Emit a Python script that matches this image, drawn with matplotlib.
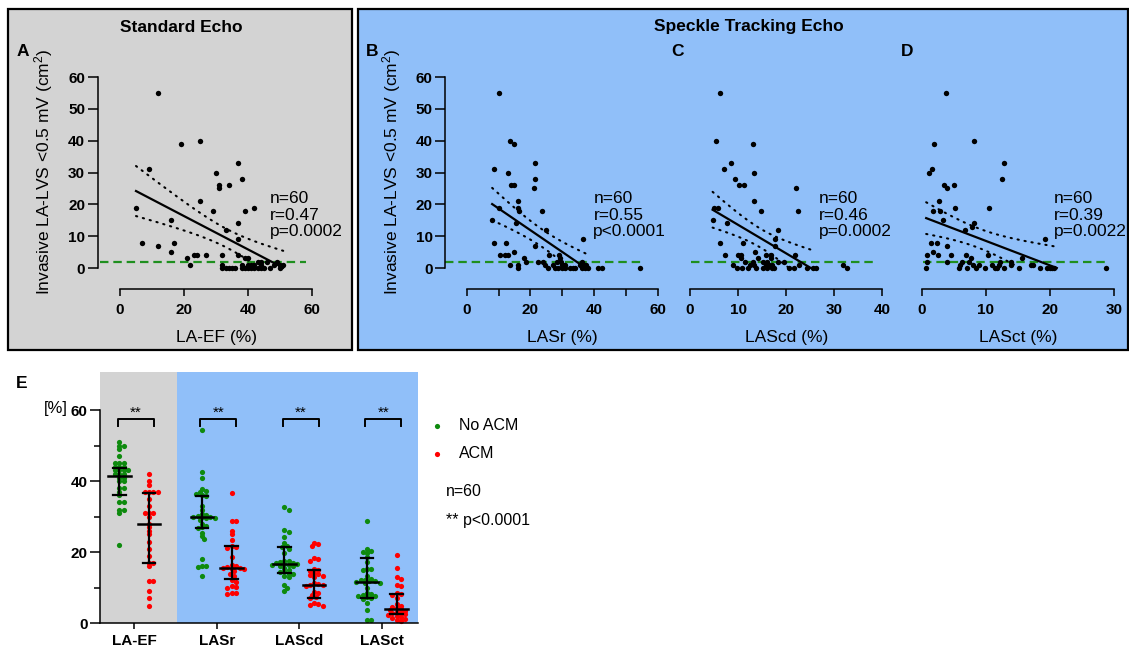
import numpy as np
import matplotlib.pyplot as plt
from matplotlib.patches import Rectangle

plt.rcParams['font.family'] = ['Liberation Sans', 'DejaVu Sans']
plt.rcParams['mathtext.default'] = 'regular'

W, H = 1129, 650
GRAY = '#d3d3d3'
BLUE = '#90bff9'
GREEN = '#0e8a0e'
RED = '#ff0000'
DGREEN = '#1f8f1f'

# ---- scatter panels A-D: x = echo parameter (%), y = LA-LVS (cm2) ----
laef_x = [12, 19, 25, 9, 37, 30, 38, 31, 31, 34, 5, 25, 29, 39, 42, 37, 16, 33, 37, 7,
          12, 17, 16, 23, 24, 27, 32, 37, 21, 22, 39, 40, 43, 44, 49, 50, 51, 42, 40, 32,
          34, 36, 38, 39, 40, 41, 42, 43, 44, 45, 32, 46, 50, 41, 48, 35, 33, 38, 44, 47]
laef_y = [55, 39, 40, 31, 33, 30, 28, 26, 25, 26, 19, 21, 18, 18, 19, 14, 15, 12, 9, 8,
          7, 8, 5, 4, 4, 4, 4, 4, 3, 1, 3, 3, 2, 2, 2, 1, 1, 1, 1, 0,
          0, 0, 0, 0, 0, 0, 0, 0, 0, 0, 1, 2, 0, 1, 1, 0, 0, 1, 1, 0]

lasr_x = [10, 13.5, 15, 8.5, 21.5, 13, 21.5, 14, 15, 21, 16, 16, 16.3, 10, 23.5, 8, 15.5, 8.5, 12.5, 25,
          21.5, 36.6, 10.5, 12, 13, 15, 13.5, 16, 16, 18, 24, 26, 24.5, 25.6, 27.7, 28.8, 29.8, 30.9, 32.5, 33.5,
          36.1, 37.2, 38, 41.2, 42.4, 54.4, 29, 29.3, 29.6, 30, 18.5, 22.5, 27, 28.5, 31, 35.5, 36.8, 36.3, 37.5, 34]
lasr_y = [55, 40, 39, 31, 33, 30, 28, 26, 26, 25, 21, 19, 18, 19, 18, 15, 14, 8, 8, 12,
          7, 9, 4, 4, 4, 5, 1, 0, 1, 3, 2, 4, 1, 0, 0, 0, 0, 0, 0, 0,
          0, 0, 0, 0, 0, 0, 4, 3, 2, 1, 2, 2, 1, 2, 1, 1, 1, 2, 1, 0]

lascd_x = [6.2, 5.5, 13, 8.6, 7, 13.4, 9.3, 10.2, 11.2, 22, 13.3, 22.5, 14.8, 5, 5.8, 4.7, 7.6, 18.3, 17.7, 6.2,
           11.1, 17.6, 7.3, 10, 10.5, 13.5, 15.8, 21.8, 10.5, 13.1, 15.2, 16.1, 18.3, 9, 22.6, 31.9, 9.8, 10.9, 13.7, 15.2,
           16.1, 17.1, 17.5, 21.6, 24.3, 25.6, 26.1, 32.6, 12.4, 13.4, 15.8, 16.5, 11.5, 14.2, 16.8, 12, 17, 19.5, 20.5, 16.9]
lascd_y = [55, 40, 39, 33, 31, 30, 28, 26, 26, 25, 21, 18, 18, 19, 19, 15, 14, 12, 9, 8,
           8, 7, 4, 4, 4, 5, 4, 4, 3, 2, 2, 2, 2, 1, 1, 1, 0, 0, 0, 0,
           0, 0, 0, 0, 0, 0, 0, 0, 1, 1, 1, 1, 2, 3, 3, 0, 1, 2, 0, 4]

lasct_x = [3.75, 1.9, 8.1, 12.9, 12.5, 1.6, 1.1, 3.5, 4, 5, 2.7, 5.25, 10.5, 1.8, 2.85, 3.3, 8.2, 7.9, 6.8, 19.2,
           1.5, 2.4, 3.9, 0.8, 1.8, 2.5, 4.5, 6.9, 7.7, 10.3, 15.6, 0.8, 3.9, 6.3, 7.4, 12.3, 13.9, 17.4, 15.2, 0.7,
           5.9, 7, 8.5, 9.9, 11.5, 11.8, 12.9, 18.5, 19.5, 20, 20.6, 28.75, 6, 8, 9, 11, 12, 14, 17, 20.3]
lasct_y = [55, 39, 40, 33, 28, 31, 30, 26, 25, 26, 21, 19, 19, 18, 18, 15, 14, 13, 12, 9,
           8, 8, 7, 4, 5, 4, 4, 4, 3, 4, 3, 2, 2, 2, 2, 2, 2, 1, 0, 0,
           0, 0, 0, 0, 0, 0, 0, 0, 0, 0, 0, 0, 1, 1, 1, 1, 1, 1, 1, 0]

scatter_stats = [['n=60', 'r=0.47', 'p=0.0002'], ['n=60', 'r=0.55', 'p<0.0001'],
                 ['n=60', 'r=0.46', 'p=0.0002'], ['n=60', 'r=0.39', 'p=0.0022']]
scatter_xlabels = ['LA-EF (%)', 'LASr (%)', 'LAScd (%)', 'LASct (%)']
threshold = 2  # green dashed reference line (cm2)

# ---- panel E: distributions by group ----
categories = ['LA-EF', 'LASr', 'LAScd', 'LASct']
no_acm = [
    [51, 50, 50, 49, 47, 45, 45, 45, 44, 44, 44, 43, 43, 43, 43, 42, 42, 42, 41, 41, 40, 40, 38, 38, 37, 36, 34, 34, 32, 32, 31, 22],
    [54.5, 42.6, 41, 37.8, 37.2, 37, 36.5, 36, 35.8, 33, 32, 30.8, 30.5, 30.2, 30, 30, 29.8, 29.5, 29.5, 29, 28, 27.5, 27, 26.8, 25.5, 24.5, 23.6, 18, 16.2, 16, 15.8, 13.3],
    [32.6, 31.9, 26.2, 25.8, 24.2, 22.7, 21.8, 21.4, 21, 19.9, 17.6, 17.4, 17.2, 17, 16.9, 16.8, 16.6, 16.5, 16.4, 16.2, 16, 15.6, 15, 14.6, 14.3, 14, 13.8, 13.4, 13, 10.8, 10, 9.2],
    [28.7, 20.8, 20.4, 20.1, 19.8, 18.7, 17.3, 15.4, 15.2, 15, 13.2, 12.6, 12.3, 12.1, 12, 11.8, 11.6, 11.4, 11.2, 9.8, 8.4, 8.2, 8, 7.8, 7.6, 7.3, 7, 6.8, 5.6, 3.7, 1, 0.8],
]
acm = [
    [42, 40, 39, 37, 37, 37, 37, 35, 33, 31, 31, 31, 30, 28, 27, 26, 25, 23, 21, 19, 17, 17, 16, 12, 12, 9, 7, 5],
    [36.7, 28.8, 28.8, 26, 25, 23.4, 21.7, 21.5, 21.2, 18.7, 16.4, 16, 15.8, 15.6, 15.5, 15.4, 15.2, 14.6, 14, 13.4, 12.2, 11.6, 10.4, 10.2, 10, 8.6, 8.5, 8.2],
    [22.6, 22.2, 21.8, 18.3, 18, 17.6, 15.4, 15, 14.8, 14.2, 13.8, 13.6, 13.3, 13, 11.2, 11, 10.9, 10.8, 10.6, 8.9, 8.4, 8, 7.5, 7.2, 5.8, 5.5, 5.2, 4.9],
    [19.2, 15.7, 12.9, 12.5, 10.7, 10.5, 8.5, 8.3, 8.1, 7, 5.3, 5, 4.6, 4.3, 4, 3.8, 3.6, 3.2, 3, 2.8, 2.6, 2.3, 2, 1.8, 1.5, 1.2, 1, 0.6],
]
med_no = [41.4, 29.8, 16.7, 11.5]
q1_no = [36.1, 26.7, 14.2, 7.0]
q3_no = [43.8, 35.9, 21.4, 18.5]
med_acm = [27.9, 15.5, 10.8, 3.9]
q1_acm = [16.9, 12.4, 7.0, 2.6]
q3_acm = [36.7, 21.7, 15.0, 8.2]

fig = plt.figure(figsize=(W / 100, H / 100), dpi=100)

# background layer in pixel coordinates
bg = fig.add_axes([0, 0, 1, 1], zorder=-1)
bg.set_xlim(0, W)
bg.set_ylim(H, 0)
bg.axis('off')
bg.add_patch(Rectangle((8, 9), 344, 341, facecolor=GRAY, edgecolor='black', lw=1.6))
bg.add_patch(Rectangle((358, 9), 770, 341, facecolor=BLUE, edgecolor='black', lw=1.6))
bg.text(181, 27, 'Standard Echo', ha='center', va='center', fontsize=12.5, fontweight='bold')
bg.text(749, 27, 'Speckle Tracking Echo', ha='center', va='center', fontsize=12.5, fontweight='bold')
for lab, px in zip('ABCD', [23, 372, 677, 907]):
    bg.text(px, 52, lab, ha='center', va='center', fontsize=12.5, fontweight='bold')


def px_axes(left, top, right, bottom):
    return fig.add_axes([left / W, 1 - bottom / H, (right - left) / W, (bottom - top) / H])


def fit_curves(x, y):
    x = np.asarray(x, float)
    y = np.asarray(y, float)
    n = len(x)
    b, a = np.polyfit(x, y, 1)
    s = np.sqrt(np.sum((y - (a + b * x)) ** 2) / (n - 2))
    sxx = np.sum((x - x.mean()) ** 2)
    x_end = min(x.max(), -a / b) if b < 0 else x.max()
    xs = np.linspace(x.min(), x_end, 300)
    yh = a + b * xs
    half = 2.0 * s * np.sqrt(1 / n + (xs - x.mean()) ** 2 / sxx)
    lo = yh - half
    lo[lo < 0] = np.nan
    return xs, yh, lo, yh + half


Y0, YS = 268, 3.183
ylo, yhi = -6.7, 62
panels = [
    # x data, y data, px of x=0, px per unit, xlim, x max tick, tick step, y axis, ref line span, text x, label px
    (laef_x, laef_y, 120, 3.2, (-7, 61), 60, 20, True, (-6.3, 58), 46.9, 216),
    (lasr_x, lasr_y, 466.7, 3.183, (-6.8, 61), 60, 20, True, (-6.8, 56), 39.8, 562),
    (lascd_x, lascd_y, 690, 4.81, (-1, 41), 40, 10, False, (0.3, 38.8), 26.7, 787),
    (lasct_x, lasct_y, 921.7, 6.4, (-1, 31), 30, 10, False, (0.15, 29), 20.6, 1018),
]
for i, (xd, yd, x0, xs_, xl, xmax, step, yax, ref, tx, lpx) in enumerate(panels):
    left = x0 + xs_ * xl[0]
    right = x0 + xs_ * xl[1]
    top = Y0 - YS * yhi
    bottom = Y0 - YS * ylo
    ax = px_axes(left, top, right, bottom)
    ax.set_facecolor('none')
    ax.set_xlim(*xl)
    ax.set_ylim(ylo, yhi)
    for sp in ['top', 'right']:
        ax.spines[sp].set_visible(False)
    ax.spines['bottom'].set_bounds(0, xmax)
    ax.spines['bottom'].set_linewidth(1.1)
    ax.set_xticks(np.arange(0, xmax + 1, step))
    if i == 1:
        ax.set_xticks(np.arange(10, xmax, 20), minor=True)
        ax.tick_params(axis='x', which='minor', length=5, width=1.1)
    ax.tick_params(axis='x', length=5, width=1.1, pad=5, labelsize=11)
    if yax:
        ax.spines['left'].set_bounds(0, 60)
        ax.spines['left'].set_linewidth(1.1)
        ax.set_yticks(np.arange(0, 61, 10))
        ax.tick_params(axis='y', length=7, width=1.1, pad=2, labelsize=11)
        ax.set_ylabel('Invasive LA-LVS <0.5 mV (cm$^2$)', fontsize=12.5)
        ax.yaxis.set_label_coords(((55 if i == 0 else 403) - left) / (right - left), (bottom - 172) / (bottom - top))
    else:
        ax.spines['left'].set_visible(False)
        ax.set_yticks([])
    for lbl in ax.get_xticklabels() + ax.get_yticklabels():
        lbl.set_fontweight('bold')
    ax.set_xlabel(scatter_xlabels[i], fontsize=12.5)
    ax.xaxis.set_label_coords((lpx - left) / (right - left), (bottom - 330) / (bottom - top))

    ax.plot(ref, [threshold, threshold], color=DGREEN, lw=1.6, dashes=(3.8, 2.2), zorder=2)
    fx, fy, flo, fhi = fit_curves(xd, yd)
    ax.plot(fx, fy, color='black', lw=1.6, zorder=3)
    for c in (flo, fhi):
        ax.plot(fx, c, color='black', lw=1.5, linestyle=(0, (0.6, 2.8)), dash_capstyle='round', zorder=3)
    ax.scatter(xd, yd, s=15, color='black', zorder=4, clip_on=False, linewidths=0)
    ax.text(tx, 16.6, '\n'.join(scatter_stats[i]), ha='left', va='center', fontsize=12.5, linespacing=1.1)

# ---- panel E ----
axE = px_axes(100, 371.7, 418, 623.3)
axE.set_xlim(-0.416, 3.44)
axE.set_ylim(0, 70.8)
axE.set_facecolor('none')
axE.axvspan(-0.416, 0.52, color=GRAY, lw=0, zorder=0)
axE.axvspan(0.52, 3.44, color=BLUE, lw=0, zorder=0)
for sp in ['top', 'right']:
    axE.spines[sp].set_visible(False)
axE.spines['left'].set_bounds(0, 60)
axE.spines['left'].set_linewidth(1.1)
axE.spines['bottom'].set_linewidth(1.1)
axE.set_yticks([0, 20, 40, 60])
axE.set_yticks([10, 30, 50], minor=True)
axE.tick_params(axis='y', which='major', length=7, width=1.1, pad=2, labelsize=11)
axE.tick_params(axis='y', which='minor', length=4, width=1.1)
axE.set_xticks(range(4))
axE.set_xticklabels(categories)
axE.tick_params(axis='x', length=4, width=1.1, pad=4, labelsize=11)
for lbl in axE.get_xticklabels() + axE.get_yticklabels():
    lbl.set_fontweight('bold')

XPX, YPX, DIAM = 82.5, 3.556, 4.7


def swarm_offsets(vals):
    order = np.argsort(vals)[::-1]
    placed = []
    offs = np.zeros(len(vals))
    for k in order:
        yp = vals[k] * YPX
        for j in range(40):
            cand = ((j + 1) // 2) * (0.45 * DIAM) * (1 if j % 2 else -1)
            if all((cand - px) ** 2 + (yp - py) ** 2 >= (DIAM * 0.72) ** 2 for px, py in placed):
                break
        placed.append((cand, yp))
        offs[k] = cand / XPX
    return offs


for i in range(4):
    for vals, off, col, med, q1, q3 in ((no_acm[i], -0.18, GREEN, med_no, q1_no, q3_no),
                                        (acm[i], 0.18, RED, med_acm, q1_acm, q3_acm)):
        v = np.asarray(vals, float)
        cx = i + off
        axE.scatter(cx + swarm_offsets(v), v, s=14, color=col, linewidths=0, zorder=2, clip_on=False)
        axE.plot([cx, cx], [q1[i], q3[i]], color='black', lw=1.6, zorder=3)
        axE.plot([cx - 0.135, cx + 0.135], [med[i], med[i]], color='black', lw=1.8, zorder=3)
        for q in (q1[i], q3[i]):
            axE.plot([cx - 0.075, cx + 0.075], [q, q], color='black', lw=1.6, zorder=3)
    bx0, bx1 = i - 0.2, i + 0.235
    axE.plot([bx0, bx0, bx1, bx1], [55.6, 57.6, 57.6, 55.6], color='black', lw=1.4, zorder=3)
    axE.text((bx0 + bx1) / 2, 57.3, '**', ha='center', va='bottom', fontsize=11)

bg.text(22, 383, 'E', ha='center', va='center', fontsize=12.5, fontweight='bold')
bg.text(56, 408, '[%]', ha='center', va='center', fontsize=12)
bg.text(138, 389, 'Standard\nEcho', ha='center', va='center', fontsize=10.5, fontweight='bold', linespacing=1.0)
bg.text(294, 389, 'Speckle Tracking\nEcho', ha='center', va='center', fontsize=10.5, fontweight='bold', linespacing=1.0)
bg.scatter([437], [426], s=14, color=GREEN, linewidths=0)
bg.scatter([437], [454], s=14, color=RED, linewidths=0)
bg.text(459, 426, 'No ACM', ha='left', va='center', fontsize=11.5)
bg.text(459, 454, 'ACM', ha='left', va='center', fontsize=11.5)
bg.text(446, 492, 'n=60', ha='left', va='center', fontsize=11.5)
bg.text(446, 521, '** p<0.0001', ha='left', va='center', fontsize=11.5)

fig.savefig('out.png', dpi=100)
